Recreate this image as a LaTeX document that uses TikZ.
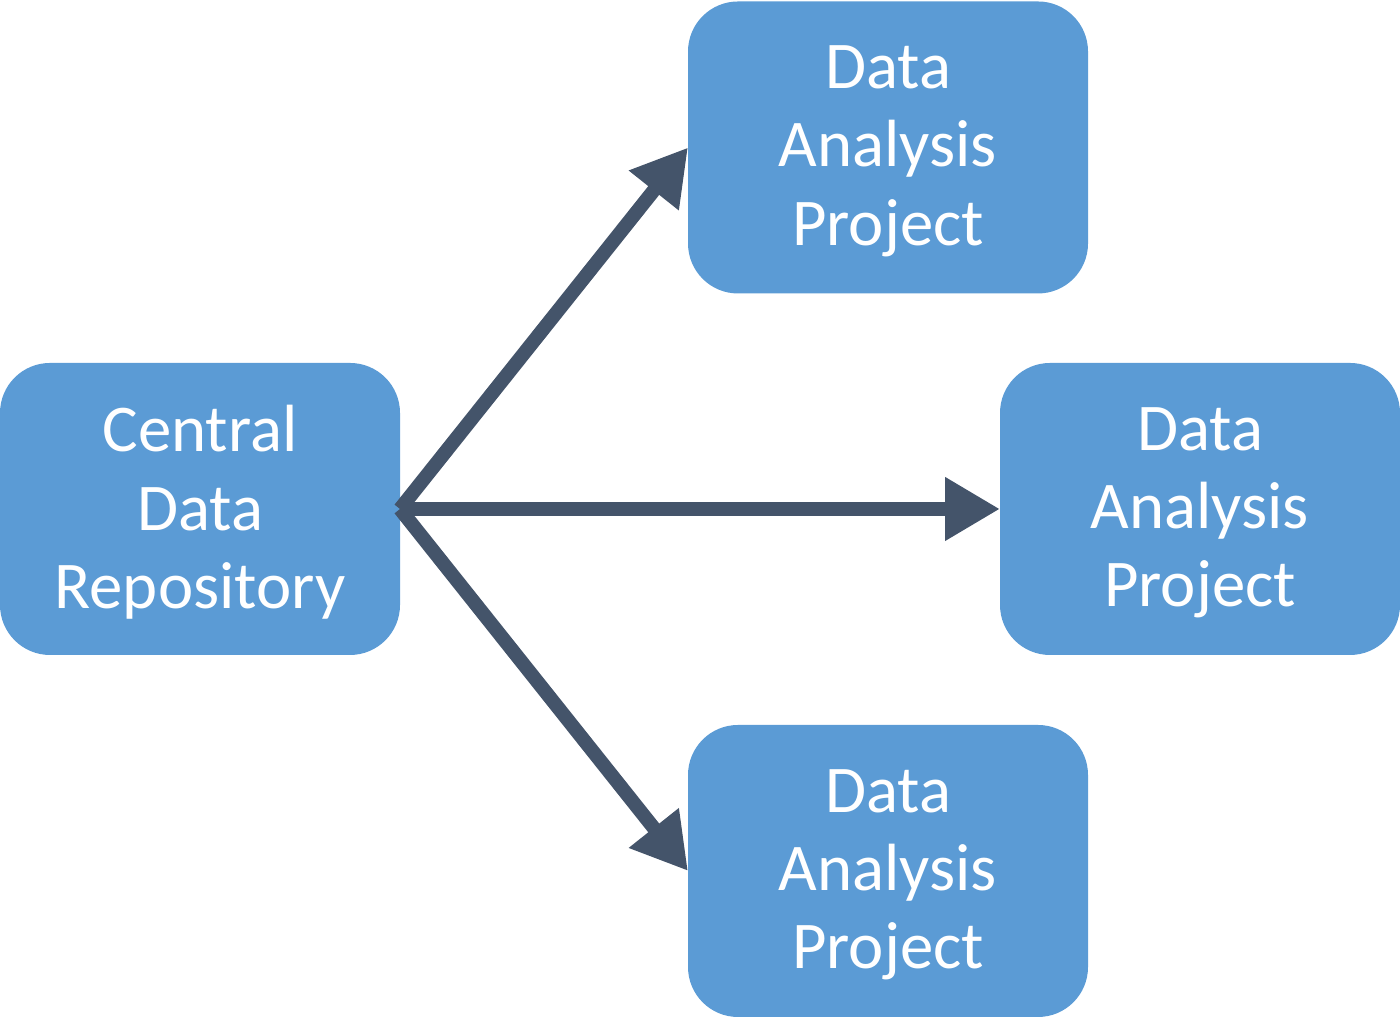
\documentclass[tikz,border=0pt]{standalone}
\usepackage{fontspec}
\setmainfont{Carlito}
\usepackage{tikz}
\usetikzlibrary{arrows.meta}
\definecolor{boxblue}{HTML}{5B9BD5}
\definecolor{arrowgray}{HTML}{44546A}
\tikzstyle{proj}=[rectangle,fill=boxblue,rounded corners=0.5cm,minimum width=4cm,minimum height=2.92cm,outer sep=0pt,inner sep=0pt,align=center,text=white,text depth=0.04cm,font=\fontsize{19}{22.3}\selectfont]

\begin{document}
\begin{tikzpicture}
%\draw[help lines] (0,0) grid (14,10);
\tikzstyle{flow}=[draw=arrowgray,line width=0.14cm,-{Triangle[length=0.55cm,width=0.6cm]}]
\useasboundingbox (0,0) rectangle (14,10.29);

\node[proj] (repo) at (2,5.2) {Central\\Data\\Repository};
\node[proj] (top) at (8.88,8.815) {Data\\Analysis\\Project};
\node[proj] (mid) at (12,5.2) {Data\\Analysis\\Project};
\node[proj] (bot) at (8.88,1.58) {Data\\Analysis\\Project};

\path (repo.east) edge[flow] (top.west);
\path (repo.east) edge[flow] (mid.west);
\path (repo.east) edge[flow] (bot.west);
\end{tikzpicture}
\end{document}
